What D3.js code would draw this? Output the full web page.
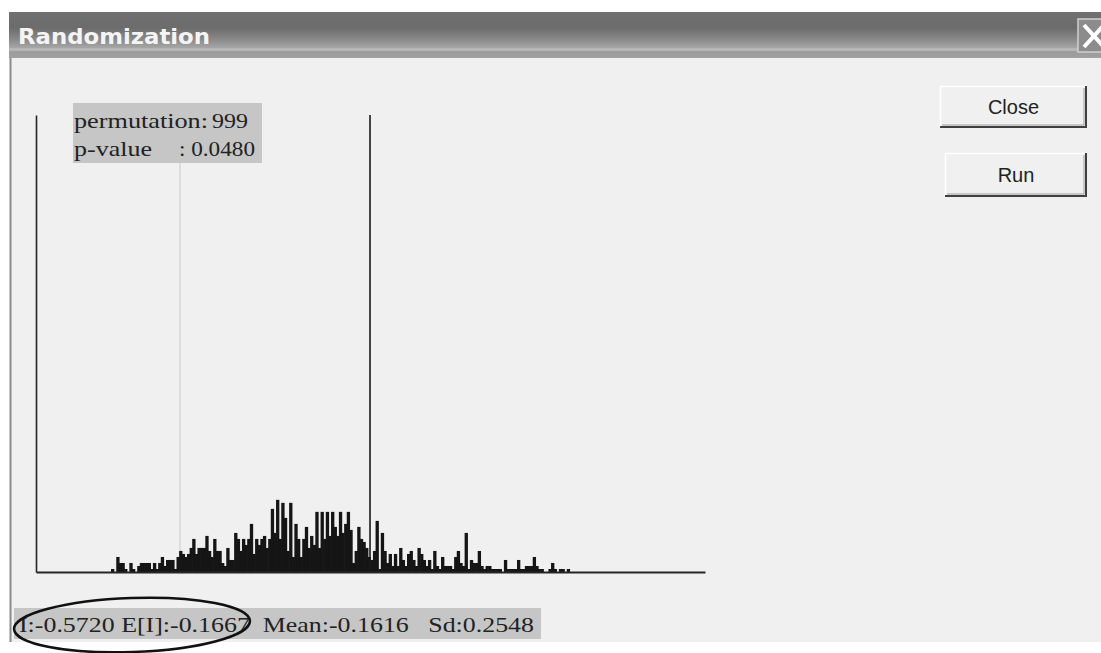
<!DOCTYPE html>
<html>
<head>
<meta charset="utf-8">
<script src="https://cdn.jsdelivr.net/npm/d3@7/dist/d3.min.js"></script>
<style>
  html, body { margin: 0; padding: 0; background: #ffffff; }
  svg { display: block; }
</style>
</head>
<body>
<svg id="chart" width="1101" height="653"></svg>
<script>
// ---------------- data ----------------
const titleText = "Randomization";
const permutations = 999;
const pValue = "0.0480";
const observedI = -0.5720;
const expectedI = -0.1667;
const meanI = -0.1616;
const sdI = 0.2548;
const refLineValue = 0.0787;      // the long dark reference line
const binStart = -0.8083;          // left edge of first bin (I units)
const binWidth = 0.00897;          // bin width (I units)
const xDomain = [-1.0652, 1.2259];
const yMax = 152;
// frequency per bin
const freqA = [1,0,5,3,3,1,0,3,1,0,2,3,3,3,3,1,3,1,3,5,2,4,4,4,1,5,7,6,5,6,8,11,6,8,8,8,12,7];
const freqB = [5,11,7,7,3,2,8,4,4,13,11,7,11,9,11,16,6,11,9,11,12,8,11,21,13,24,11,23,18,7,23,5,16,11,5,11,15,8,12,9,20,8,20,11];
const freqC = [20,12,20,15,12,20,13,16,20,14,3,7,15,11,10,8,5,4,7,17,1,13,7,3,6,2,6,2,8,4,2,6,7,4,2,8,6,4,2,4,1,7,2,1,5,2,2];
const freqD = [2,1,5,7,3,2,13,1,4,3,3,7,2,1,2,2,1,1,1,1,0,4,1,1,1,1,4,1,1,2,2,2,5,2,1,1,0,0,1,3,1,0,1,1,0,1];
const freq = freqA.concat(freqB, freqC, freqD);
const buttonLabels = ["Close", "Run"];

// ---------------- drawing ----------------
const svg = d3.select("#chart");
const defs = svg.append("defs");
const grad = defs.append("linearGradient").attr("id", "titleGrad")
  .attr("x1", 0).attr("y1", 0).attr("x2", 0).attr("y2", 1);
[[0, "#707070"], [0.35, "#6c6c6c"], [0.6, "#8a8a8a"], [0.78, "#a6a6a6"], [0.8, "#bcbcbc"], [0.84, "#b4b4b4"], [0.86, "#9c9c9c"], [1, "#a0a0a0"]]
  .forEach(([o, c]) => grad.append("stop").attr("offset", o).attr("stop-color", c));

// window body
svg.append("rect").attr("x", 10).attr("y", 58).attr("width", 1091).attr("height", 584).attr("fill", "#f0f0f0");
svg.append("line").attr("x1", 10.5).attr("x2", 10.5).attr("y1", 58).attr("y2", 642)
  .attr("stroke", "#8a8a8a").attr("stroke-width", 2);

// title bar
svg.append("rect").attr("x", 9).attr("y", 12).attr("width", 1092).attr("height", 46).attr("fill", "url(#titleGrad)");
svg.append("text").attr("x", 18).attr("y", 44)
  .attr("font-family", "DejaVu Sans, Verdana, sans-serif").attr("font-weight", "bold")
  .attr("font-size", 21).attr("fill", "#f4f4f4")
  .attr("textLength", 192).attr("lengthAdjust", "spacingAndGlyphs")
  .text(titleText);
// close X
svg.append("rect").attr("x", 1078).attr("y", 19).attr("width", 30).attr("height", 33)
  .attr("fill", "#8c8c8c").attr("stroke", "#cfcfcf").attr("stroke-width", 1.5);
svg.append("path").attr("d", "M1084,25 L1104,47 M1104,25 L1084,47")
  .attr("stroke", "#ffffff").attr("stroke-width", 4);

// scales
const x = d3.scaleLinear().domain(xDomain).range([36, 705]);
const y = d3.scaleLinear().domain([0, yMax]).range([572, 115]);

// observed I (grey) line
svg.append("line").attr("x1", x(observedI)).attr("x2", x(observedI))
  .attr("y1", y(yMax)).attr("y2", y(0)).attr("stroke", "#d6d6d6").attr("stroke-width", 1.5);

// histogram bars
const bins = freq.map((f, i) => ({ x0: binStart + i * binWidth, x1: binStart + (i + 1) * binWidth, f }));
svg.append("g").selectAll("rect").data(bins).join("rect")
  .attr("x", d => x(d.x0))
  .attr("width", d => Math.max(0, x(d.x1) - x(d.x0)) + 0.7)
  .attr("y", d => y(d.f))
  .attr("height", d => y(0) - y(d.f))
  .attr("fill", "#151515");

// reference dark line
svg.append("line").attr("x1", x(refLineValue)).attr("x2", x(refLineValue))
  .attr("y1", y(yMax)).attr("y2", y(0)).attr("stroke", "#1a1a1a").attr("stroke-width", 1.6);

// axes (no ticks)
const gx = svg.append("g").attr("transform", `translate(0,${y(0)})`)
  .call(d3.axisBottom(x).tickValues([]).tickSizeOuter(0));
gx.select(".domain").attr("stroke", "#262626").attr("stroke-width", 2);
const gy = svg.append("g").attr("transform", `translate(${x(xDomain[0])},0)`)
  .call(d3.axisLeft(y).tickValues([]).tickSizeOuter(0));
gy.select(".domain").attr("stroke", "#262626").attr("stroke-width", 1.6);

// info box (top)
const serif = "Liberation Serif, Times New Roman, serif";
svg.append("rect").attr("x", 73).attr("y", 103).attr("width", 189).attr("height", 60).attr("fill", "#c6c6c6");
svg.append("text").attr("x", 74).attr("y", 128).attr("font-family", serif).attr("font-size", 21).attr("fill", "#222")
  .attr("textLength", 134).attr("lengthAdjust", "spacingAndGlyphs").text("permutation:");
svg.append("text").attr("x", 212).attr("y", 128).attr("font-family", serif).attr("font-size", 21).attr("fill", "#222")
  .attr("textLength", 36).attr("lengthAdjust", "spacingAndGlyphs").text(String(permutations));
svg.append("text").attr("x", 74).attr("y", 156).attr("font-family", serif).attr("font-size", 21).attr("fill", "#222")
  .attr("textLength", 78).attr("lengthAdjust", "spacingAndGlyphs").text("p-value");
svg.append("text").attr("x", 179).attr("y", 156).attr("font-family", serif).attr("font-size", 21).attr("fill", "#222")
  .attr("textLength", 76).attr("lengthAdjust", "spacingAndGlyphs").text(": " + pValue);

// bottom status text
svg.append("rect").attr("x", 14).attr("y", 608).attr("width", 527).attr("height", 31).attr("fill", "#c6c6c6");
const status = `I:${observedI.toFixed(4)} E[I]:${expectedI.toFixed(4)}  Mean:${meanI.toFixed(4)}   Sd:${sdI.toFixed(4)}`;
svg.append("text").attr("x", 19).attr("y", 632).attr("font-family", serif).attr("font-size", 22).attr("fill", "#222")
  .attr("xml:space", "preserve").style("white-space", "pre")
  .attr("textLength", 515).attr("lengthAdjust", "spacingAndGlyphs").text(status);

// hand-drawn ellipse
svg.append("ellipse").attr("cx", 132).attr("cy", 625).attr("rx", 118).attr("ry", 27)
  .attr("fill", "none").attr("stroke", "#111").attr("stroke-width", 2.5)
  .attr("transform", "rotate(-2,132,625)");

// buttons
const btns = [{ label: buttonLabels[0], x: 940, y: 86, w: 147, h: 42 }, { label: buttonLabels[1], x: 945, y: 153, w: 142, h: 44 }];
btns.forEach(b => {
  const g = svg.append("g");
  g.append("rect").attr("x", b.x).attr("y", b.y).attr("width", b.w).attr("height", b.h).attr("fill", "#f0f0f0");
  g.append("path").attr("d", `M${b.x + 0.5},${b.y + b.h} V${b.y + 0.5} H${b.x + b.w}`).attr("fill", "none").attr("stroke", "#ffffff").attr("stroke-width", 1.5);
  g.append("path").attr("d", `M${b.x},${b.y + b.h - 1} H${b.x + b.w - 1} V${b.y}`).attr("fill", "none").attr("stroke", "#404040").attr("stroke-width", 2);
  g.append("path").attr("d", `M${b.x + 2},${b.y + b.h - 3} H${b.x + b.w - 3} V${b.y + 2}`).attr("fill", "none").attr("stroke", "#a0a0a0").attr("stroke-width", 1);
  g.append("text").attr("x", b.x + b.w / 2).attr("y", b.y + b.h / 2 + 7).attr("text-anchor", "middle")
    .attr("font-family", "Liberation Sans, Arial, sans-serif").attr("font-size", 20).attr("fill", "#222").text(b.label);
});
</script>
</body>
</html>
